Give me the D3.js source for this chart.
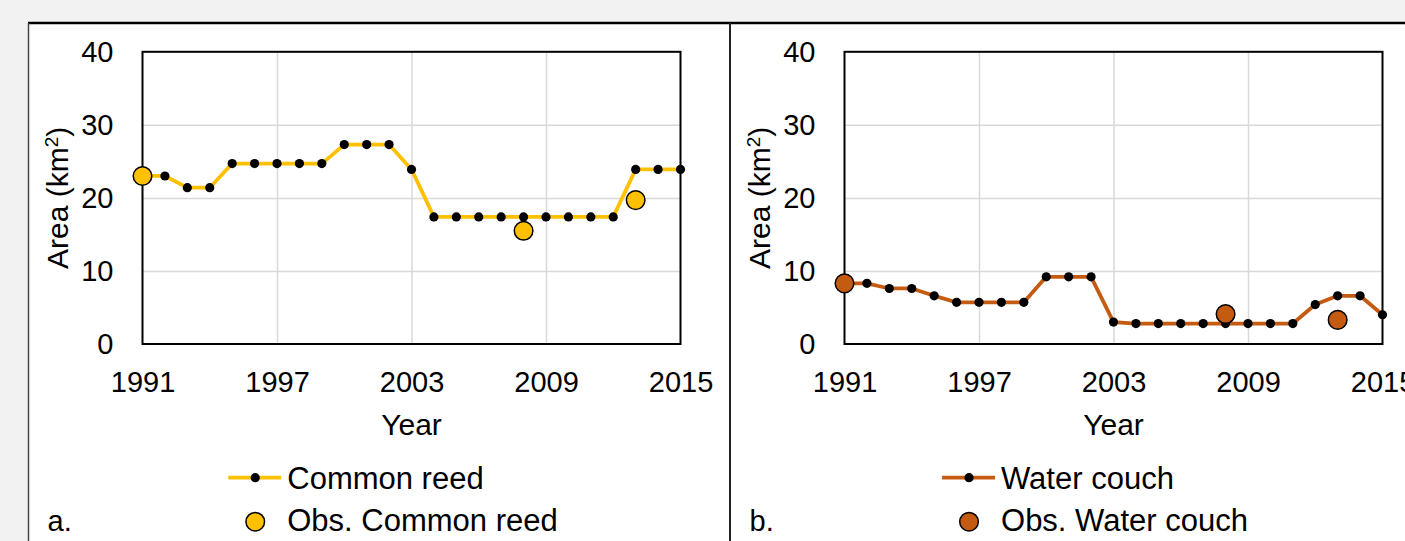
<!DOCTYPE html>
<html>
<head>
<meta charset="utf-8">
<script src="https://cdn.jsdelivr.net/npm/d3@7"></script>
<style>
    body { margin: 0; background: #f2f2f2; overflow: hidden; }
    svg { display: block; }
    text { font-family: "Liberation Sans", Arial, sans-serif; fill: #000; }
</style>
</head>
<body>
<div id="chart"></div>
<script>

// data
const years = [1991, 1992, 1993, 1994, 1995, 1996, 1997, 1998, 1999, 2000, 2001, 2002, 2003,
    2004, 2005, 2006, 2007, 2008, 2009, 2010, 2011, 2012, 2013, 2014, 2015];
const reedModel = [23.0, 23.0, 21.4, 21.4, 24.7, 24.7, 24.7, 24.7, 24.7, 27.3, 27.3, 27.3, 23.9,
    17.4, 17.4, 17.4, 17.4, 17.4, 17.4, 17.4, 17.4, 17.4, 23.9, 23.9, 23.9];
const couchModel = [8.3, 8.3, 7.6, 7.6, 6.6, 5.7, 5.7, 5.7, 5.7, 9.2, 9.2, 9.2, 3.0,
    2.8, 2.8, 2.8, 2.8, 2.8, 2.8, 2.8, 2.8, 5.4, 6.6, 6.6, 4.0];
const obsYears = [1991, 2008, 2013];
const reedObs = [23.0, 15.5, 19.7];
const couchObs = [8.3, 4.1, 3.3];
const xTicks = [1991, 1997, 2003, 2009, 2015];
const yTicks = [0, 10, 20, 30, 40];

const panels = [
    {left: 28, tag: 'a.', name: 'Common reed', color: '#FFC000', model: reedModel, obs: reedObs},
    {left: 730, tag: 'b.', name: 'Water couch', color: '#C55A11', model: couchModel, obs: couchObs}
];

const W = 1405, H = 541;

let svg = d3.select('#chart').append('svg')
    .attr('width', W)
    .attr('height', H);

// white figure area + borders
svg.append('rect')
    .attr('x', 28).attr('y', 23)
    .attr('width', W - 28).attr('height', H - 23)
    .attr('fill', '#fff');

svg.append('line')
    .attr('x1', 28).attr('x2', W).attr('y1', 23).attr('y2', 23)
    .attr('stroke', '#000').attr('stroke-width', 2.5);

svg.append('line')
    .attr('x1', 28.5).attr('x2', 28.5).attr('y1', 23).attr('y2', H)
    .attr('stroke', '#444').attr('stroke-width', 1.5);

svg.append('line')
    .attr('x1', 730).attr('x2', 730).attr('y1', 23).attr('y2', H)
    .attr('stroke', '#222').attr('stroke-width', 2);

panels.forEach(p => drawPanel(p));

function drawPanel(p) {
    let plot = {left: p.left + 114.5, top: 51.8, width: 538, height: 292.2};

    let x = d3.scaleLinear()
        .domain([1991, 2015])
        .range([0, plot.width]);

    let y = d3.scaleLinear()
        .domain([0, 40])
        .range([plot.height, 0]);

    let g = svg.append('g')
        .attr('transform', `translate(${plot.left}, ${plot.top})`);

    // gridlines
    g.append('g')
        .attr('class', 'grid')
        .call(d3.axisLeft(y).tickValues([10, 20, 30]).tickSize(-plot.width).tickFormat(''))
        .call(a => a.select('.domain').remove())
        .selectAll('line').attr('stroke', '#d9d9d9').attr('stroke-width', 1.5);

    g.append('g')
        .attr('class', 'grid')
        .call(d3.axisBottom(x).tickValues([1997, 2003, 2009]).tickSize(plot.height).tickFormat(''))
        .call(a => a.select('.domain').remove())
        .selectAll('line').attr('stroke', '#d9d9d9').attr('stroke-width', 1.5);

    // tick labels
    g.append('g')
        .call(d3.axisLeft(y).tickValues(yTicks).tickSize(0).tickPadding(29))
        .call(a => a.select('.domain').remove())
        .attr('font-family', null).attr('font-size', null)
        .selectAll('text').style('font-size', '29px').attr('fill', '#000');

    g.append('g')
        .attr('transform', `translate(0, ${plot.height})`)
        .call(d3.axisBottom(x).tickValues(xTicks).tickSize(0).tickPadding(27).tickFormat(d3.format('d')))
        .call(a => a.select('.domain').remove())
        .attr('font-family', null).attr('font-size', null)
        .selectAll('text').style('font-size', '29px').attr('fill', '#000');

    // plot frame
    g.append('rect')
        .attr('width', plot.width)
        .attr('height', plot.height)
        .attr('fill', 'none')
        .attr('stroke', '#000')
        .attr('stroke-width', 2);

    // axis titles
    let yt = svg.append('text')
        .attr('transform', `translate(${p.left + 40}, ${plot.top + plot.height / 2}) rotate(-90)`)
        .attr('text-anchor', 'middle')
        .style('font-size', '30px');
    yt.append('tspan').text('Area (km');
    yt.append('tspan').text('2').attr('baseline-shift', 'super').style('font-size', '19px');
    yt.append('tspan').text(')');

    svg.append('text')
        .attr('x', plot.left + plot.width / 2)
        .attr('y', 435)
        .attr('text-anchor', 'middle')
        .style('font-size', '30px')
        .text('Year');

    // series
    let series = years.map((d, i) => ({year: d, value: p.model[i]}));
    let obs = obsYears.map((d, i) => ({year: d, value: p.obs[i]}));

    let line = d3.line()
        .x(d => x(d.year))
        .y(d => y(d.value));

    g.append('path')
        .datum(series)
        .attr('d', line)
        .attr('fill', 'none')
        .attr('stroke', p.color)
        .attr('stroke-width', 3.75)
        .attr('stroke-linejoin', 'round');

    g.selectAll('.dot')
        .data(series)
        .enter().append('circle')
        .attr('class', 'dot')
        .attr('cx', d => x(d.year))
        .attr('cy', d => y(d.value))
        .attr('r', 4.6)
        .attr('fill', '#000');

    g.selectAll('.obs')
        .data(obs)
        .enter().append('circle')
        .attr('class', 'obs')
        .attr('cx', d => x(d.year))
        .attr('cy', d => y(d.value))
        .attr('r', 9.3)
        .attr('fill', p.color)
        .attr('stroke', '#000')
        .attr('stroke-width', 1.5);

    // legend
    let labels = [p.name, 'Obs. ' + p.name];
    let leg = svg.append('g');
    let texts = leg.selectAll('text')
        .data(labels)
        .enter().append('text')
        .style('font-size', '31px')
        .text(d => d);
    let maxLen = d3.max(texts.nodes(), n => n.getComputedTextLength());
    let lx = plot.left + plot.width / 2 - 18.5 - (59 + maxLen) / 2;

    texts.attr('x', lx + 59)
        .attr('y', (d, i) => i === 0 ? 488.5 : 531);

    leg.append('line')
        .attr('x1', lx).attr('x2', lx + 53)
        .attr('y1', 477.7).attr('y2', 477.7)
        .attr('stroke', p.color).attr('stroke-width', 3.75);
    leg.append('circle')
        .attr('cx', lx + 27).attr('cy', 477.7).attr('r', 4.6).attr('fill', '#000');
    leg.append('circle')
        .attr('cx', lx + 27).attr('cy', 521.7).attr('r', 9.3)
        .attr('fill', p.color).attr('stroke', '#000').attr('stroke-width', 1.5);

    // panel tag
    svg.append('text')
        .attr('x', p.left + 19.5)
        .attr('y', 531)
        .style('font-size', '29px')
        .text(p.tag);
}

</script>
</body>
</html>
